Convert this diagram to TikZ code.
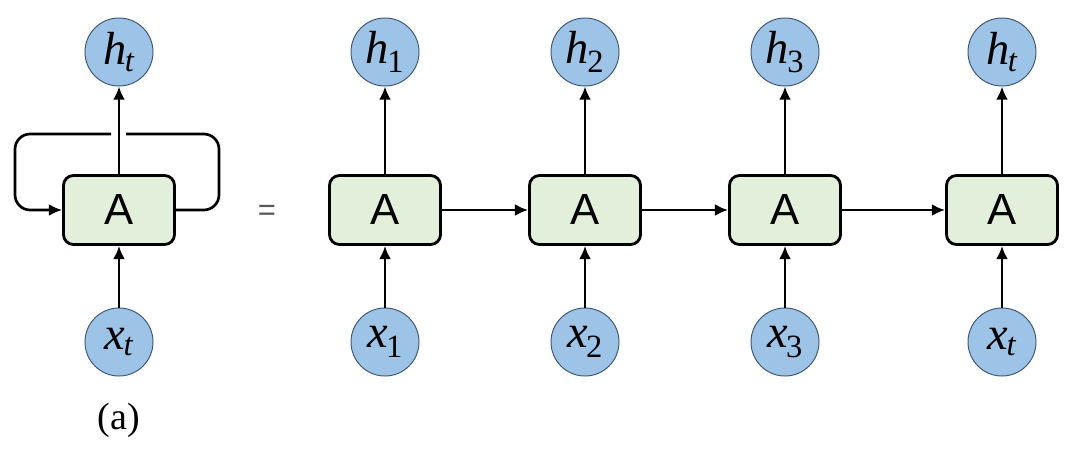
\documentclass[tikz,border=0pt]{standalone}
\usepackage{fontspec}
\setmainfont{Liberation Serif}
\setsansfont{Liberation Sans}
\usetikzlibrary{arrows.meta}
\definecolor{cfill}{RGB}{157,195,230}
\definecolor{cline}{RGB}{65,90,120}
\definecolor{bfill}{RGB}{226,239,218}
\tikzset{
  vec/.style={circle, draw=cline, line width=0.7pt, fill=cfill, minimum size=1.7cm, inner sep=0pt,
    font=\fontsize{33}{38}\selectfont\itshape},
  cell/.style={rectangle, rounded corners=0.25cm, draw=black, line width=2pt, fill=bfill,
    minimum width=2.775cm, minimum height=1.725cm, inner sep=0pt, font=\sffamily\fontsize{31}{34}\selectfont},
  conn/.style={line width=1.9pt, -{Latex[length=0.33cm,width=0.3cm]}},
  plain/.style={line width=1.9pt},
}
\newcommand{\sv}[2]{#1\textsubscript{\kern-0.05em #2}}
\begin{document}
\begin{tikzpicture}[x=0.025cm,y=-0.025cm]
\useasboundingbox (0,0) rectangle (1080,453);
% left folded RNN
\node[vec] (h0) at (119,52) {\sv{h}{t}};
\node[cell] (a0) at (119,210) {A};
\node[vec] (x0) at (119,342) {\sv{x}{t}};
\draw[conn] (a0) -- (h0);
\draw[conn] (x0) -- (a0);
\coordinate (gr) at (126,134);
\coordinate (gl) at (111,134);
\draw[plain, rounded corners=0.38cm] (a0.east) -- (219,210) -- (219,134) -- (gr);
\draw[conn, rounded corners=0.38cm] (gl) -- (15,134) -- (15,210) -- (a0.west);
\node[font=\fontsize{27}{30}\selectfont] (lab) at (119,420) {(a)};
\node[text=black!65, font=\sffamily\fontsize{22}{24}\selectfont] (eq) at (267,213) {=};
% unrolled
\foreach \i/\x/\s in {1/385/\textup{1}, 2/585/\textup{2}, 3/785/\textup{3}, 4/1002/t}{
  \node[vec] (h\i) at (\x,52) {\sv{h}{\s}};
  \node[cell] (a\i) at (\x,210) {A};
  \node[vec] (x\i) at (\x,342) {\sv{x}{\s}};
  \draw[conn] (a\i) -- (h\i);
  \draw[conn] (x\i) -- (a\i);
}
\draw[conn] (a1) -- (a2);
\draw[conn] (a2) -- (a3);
\draw[conn] (a3) -- (a4);
\end{tikzpicture}
\end{document}
